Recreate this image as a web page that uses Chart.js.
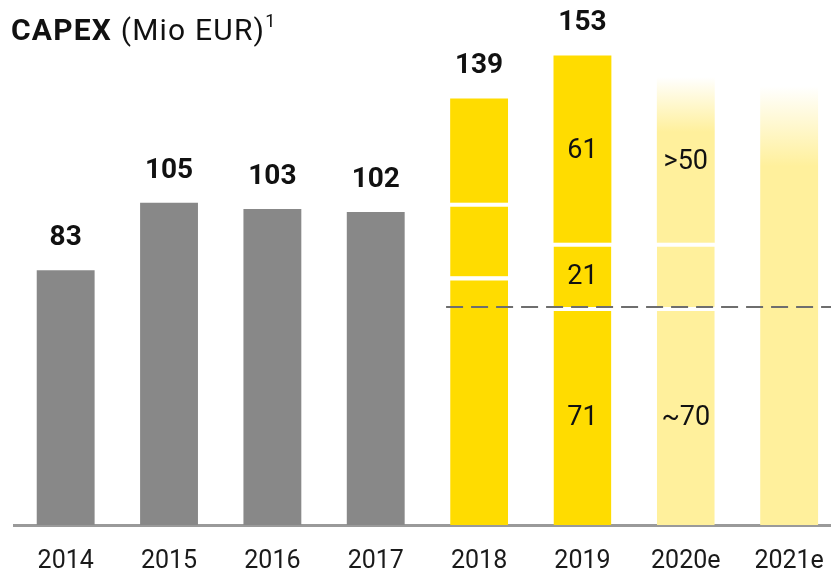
<!DOCTYPE html>
<html>
<head>
<meta charset="utf-8">
<script src="https://cdn.jsdelivr.net/npm/chart.js@4.4.1/dist/chart.umd.min.js"></script>
<style>
  html, body { margin: 0; padding: 0; background: #fff; overflow: hidden; }
  #wrap { position: relative; width: 831px; height: 576px; overflow: hidden; }
  #capexChart { position: absolute; left: 0; top: 0; }
  #title { position: absolute; left: 11px; top: 12px; font-family: Roboto, sans-serif; font-size: 30px; letter-spacing: 1.2px; color: #111; white-space: nowrap; }
  #title b { font-weight: 700; }
  #title sup { font-size: 18px; position: relative; top: -2px; }
</style>
</head>
<body>
<div id="wrap">
  <canvas id="capexChart" width="846" height="600"></canvas>
  <div id="title"><b>CAPEX</b> (Mio EUR)<sup>1</sup></div>
</div>
<script>
// values (Mio EUR)
const years = ['2014', '2015', '2016', '2017', '2018', '2019', '2020e', '2021e'];
const baseCapex = [83, 105, 103, 102, 81, 71, 71, 143];
const midCapex = [null, null, null, null, 24, 21, 21, null];
const topCapex = [null, null, null, null, 34, 61, 54, null];

const totalLabels = ['83', '105', '103', '102', '139', '153', null, null];
const baseLabels = [null, null, null, null, null, '71', '~70', null];
const midLabels = [null, null, null, null, null, '21', null, null];
const topLabels = [null, null, null, null, null, '61', '>50', null];

const dashLevel = 71; // dashed reference line

const GREY = '#888888';
const YELLOW = '#FFDC00';
const LIGHT = '#FFF09C';

function stackTop(i, upto) {
  const sets = [baseCapex, midCapex, topCapex];
  let sum = 0;
  for (let d = 0; d <= upto; d++) sum += sets[d][i] || 0;
  return sum;
}

// top segment of the estimates fades out to white
function barFill(ctx) {
  const i = ctx.dataIndex;
  if (i < 4) return GREY;
  if (i < 6) return YELLOW;
  const fades = (i === 6 && ctx.datasetIndex === 2) || (i === 7 && ctx.datasetIndex === 0);
  const chart = ctx.chart;
  if (!fades || !chart.chartArea || !chart.scales.y) return LIGHT;
  const yTop = chart.scales.y.getPixelForValue(stackTop(i, ctx.datasetIndex));
  const len = i === 6 ? 55 : 80;
  const g = chart.ctx.createLinearGradient(0, yTop, 0, yTop + len);
  g.addColorStop(0, '#FFFFFF');
  g.addColorStop(1, LIGHT);
  return g;
}

function gapBorder(ctx) {
  // white separator on top of lower segments
  const i = ctx.dataIndex;
  if (ctx.datasetIndex < 2 && i >= 4 && i <= 6) return { top: 4, left: 0, right: 0, bottom: 0 };
  return 0;
}

const labelPlugin = {
  id: 'capexLabels',
  afterDatasetsDraw(chart) {
    const { ctx, scales: { x, y } } = chart;
    ctx.save();
    ctx.textAlign = 'center';
    ctx.textBaseline = 'middle';
    ctx.fillStyle = '#111';

    // dashed line
    const yd = y.getPixelForValue(dashLevel);
    ctx.strokeStyle = '#6E6E6E';
    ctx.lineWidth = 2;
    ctx.setLineDash([17, 8]);
    ctx.beginPath();
    ctx.moveTo(x.getPixelForValue(4) - 33, yd);
    ctx.lineTo(chart.width, yd);
    ctx.stroke();
    ctx.setLineDash([]);

    ctx.font = 'bold 28px Roboto';
    totalLabels.forEach((t, i) => {
      if (!t) return;
      const top = y.getPixelForValue(stackTop(i, 2));
      ctx.fillText(t, x.getPixelForValue(i), top - 32);
    });

    ctx.font = '27px Roboto';
    [baseLabels, midLabels, topLabels].forEach((arr, d) => {
      arr.forEach((t, i) => {
        if (!t) return;
        const lo = d === 0 ? 0 : stackTop(i, d - 1);
        const hi = stackTop(i, d);
        const yc = (y.getPixelForValue(lo) + y.getPixelForValue(hi)) / 2;
        ctx.fillText(t, x.getPixelForValue(i), yc + 2);
      });
    });
    ctx.restore();
  }
};

new Chart(document.getElementById('capexChart'), {
  type: 'bar',
  data: {
    labels: years,
    datasets: [
      { data: baseCapex, stack: 'c', backgroundColor: barFill, borderColor: '#fff', borderWidth: gapBorder, borderSkipped: false },
      { data: midCapex, stack: 'c', backgroundColor: barFill, borderColor: '#fff', borderWidth: gapBorder, borderSkipped: false },
      { data: topCapex, stack: 'c', backgroundColor: barFill, borderColor: '#fff', borderWidth: 0 }
    ]
  },
  options: {
    responsive: false,
    animation: false,
    barPercentage: 0.56,
    categoryPercentage: 1,
    // canvas is a bit larger than the view, so the plot runs past the right edge
    layout: { padding: { top: 34, left: 14, right: 2, bottom: 1 } },
    plugins: { legend: { display: false }, tooltip: { enabled: false } },
    scales: {
      x: {
        stacked: true,
        grid: { display: false, drawTicks: false },
        border: { display: true, color: '#9A9A9A', width: 3 },
        ticks: { color: '#1A1A1A', font: { family: 'Roboto', size: 25 }, padding: 22 }
      },
      y: { stacked: true, display: false, min: 0, max: 160 }
    }
  },
  plugins: [labelPlugin]
});
</script>
</body>
</html>
